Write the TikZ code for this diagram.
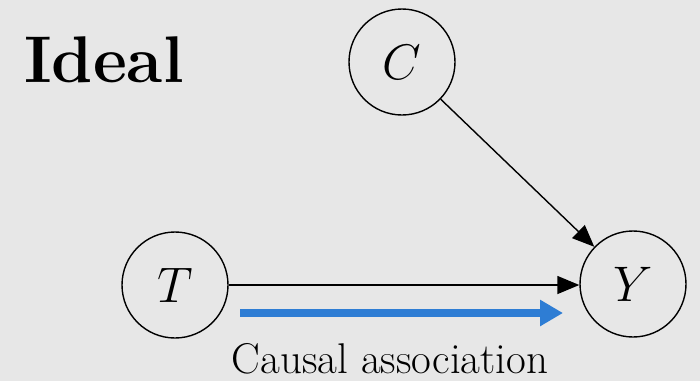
\documentclass[tikz,border=0pt]{standalone}
\usepackage{fix-cm}
\usepackage{amsmath,amssymb}
\usetikzlibrary{arrows.meta, positioning}
\definecolor{paneltone}{RGB}{231,231,231}
\definecolor{assocblue}{RGB}{46,125,212}

\begin{document}
\begin{tikzpicture}[x=1pt, y=-1pt,
  var/.style={circle, draw, line width=1.4pt, minimum size=106pt,
    inner sep=0pt, font=\fontsize{50}{50}\selectfont},
  edge/.style={-{Triangle[length=22pt, width=18pt]}, line width=1.4pt}]

% ---- Background panel ----
\fill[paneltone] (0,0) rectangle (700,381);
\useasboundingbox (0,0) rectangle (700,381);

% ---- Title ----
\node[anchor=base west, inner sep=0pt,
      font=\fontsize{66}{66}\selectfont\bfseries] (title) at (24,82) {Ideal};

% ---- Variables ----
\node[var] (C) at (402,62) {$C$};
\node[var] (T) at (175,285) {$T$};
\node[var] (Y) at (633,284) {$Y$};

% ---- Causal edges ----
\draw[edge] (C) -- (Y);
\draw[edge] (T) -- (Y.west |- T);

% ---- Association arrow ----
\coordinate (assocstart) at (240,313);
\coordinate (assocend) at (563,313);
\draw[-{Triangle[length=23pt, width=25pt]}, assocblue, line width=7.5pt]
  (assocstart) -- (assocend);
\node[anchor=base, inner sep=0pt, font=\fontsize{43}{43}\selectfont]
  (assoclabel) at (390,373) {Causal association};

\end{tikzpicture}
\end{document}
